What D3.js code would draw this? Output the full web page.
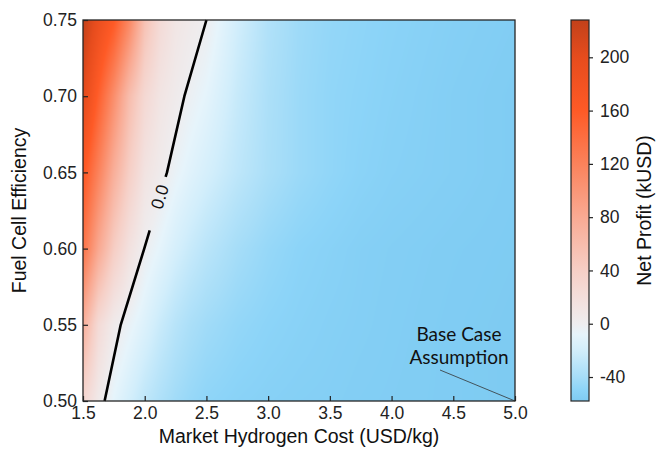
<!DOCTYPE html>
<html><head><meta charset="utf-8">
<script src="https://cdn.jsdelivr.net/npm/d3@7"></script>
<style>body{margin:0;background:#fff} svg{display:block}</style>
</head><body><svg id="chart" width="659" height="450"></svg>
<script>
// ---- data ----
const costs = [1.5,1.625,1.75,1.875,2.0,2.125,2.25,2.375,2.5,2.75,3.0,3.25,3.5,3.75,4.0,4.5,5.0];
const efficiencies = [0.50,0.55,0.60,0.65,0.70,0.75];
const profitEff050 = [30,6,-9,-19,-29,-36,-42,-46,-49,-51.5,-53,-54,-54.5,-55.5,-56,-57,-58];
const profitEff055 = [75,25,4,-5,-14,-24,-32,-38,-42,-47,-50,-52,-53.5,-54.5,-55.5,-57,-58];
const profitEff060 = [135,82,42,16,-0.5,-9,-18,-25,-31,-40,-46,-50,-52,-54,-55,-56.5,-57.5];
const profitEff065 = [165,120,75,40,14,4,-5,-12,-18,-29,-38,-44,-48,-51,-53,-55,-57];
const profitEff070 = [205,155,108,60,28,12,4,-3,-9,-25,-37,-44,-48,-50,-52,-55,-57];
const profitEff075 = [228,192,162,115,55,25,11,5,0,-20,-35,-43,-47,-49,-51,-54,-56];
const profitGrid = [profitEff050,profitEff055,profitEff060,profitEff065,profitEff070,profitEff075];
const xTicks = [1.5,2.0,2.5,3.0,3.5,4.0,4.5,5.0];
const yTicks = [0.50,0.55,0.60,0.65,0.70,0.75];
const cbarTicks = [-40,0,40,80,120,160,200];
const cbarDomain = [-58,228];
const colorStops = [-58,-50,-40,-20,-8,0,10,20,40,80,120,160,200,228];
const colorHex = ["#7ecbf2","#8cd4f8","#a6ddf8","#d2eefb","#e6f4fb","#eeedef","#f1e6e5","#f3dedb","#f6cfc6","#f9aa93","#fb825b","#fe5a26","#e64c1d","#c2411a"];
const contourLevel = 0;
const baseCaseCost = 5.0, baseCaseEff = 0.50;
const annotationLines = ["Base Case","Assumption"];

// ---- layout ----
const svg = d3.select("#chart");
const L = 83, R = 515, T = 20, B = 401;
const x = d3.scaleLinear().domain([1.5,5.0]).range([L,R]);
const y = d3.scaleLinear().domain([0.50,0.75]).range([B,T]);
const color = d3.scaleLinear().domain(colorStops).range(colorHex).interpolate(d3.interpolateRgb).clamp(true);
const tickFont = "'Liberation Sans', Arial, sans-serif";

function valueAt(c, e){
  let i = Math.max(0, Math.min(costs.length-2, d3.bisectRight(costs, c)-1));
  let j = Math.max(0, Math.min(efficiencies.length-2, d3.bisectRight(efficiencies, e)-1));
  const tx = Math.max(0, Math.min(1, (c-costs[i])/(costs[i+1]-costs[i])));
  const ty = Math.max(0, Math.min(1, (e-efficiencies[j])/(efficiencies[j+1]-efficiencies[j])));
  const a = profitGrid[j][i], b = profitGrid[j][i+1], cc = profitGrid[j+1][i], d = profitGrid[j+1][i+1];
  return (a*(1-tx)+b*tx)*(1-ty) + (cc*(1-tx)+d*tx)*ty;
}

// ---- heatmap as image ----
const W = R-L, H = B-T;
const cv = document.createElement("canvas"); cv.width = W; cv.height = H;
const ctx = cv.getContext("2d");
const img = ctx.createImageData(W,H);
for(let py=0; py<H; py++){
  const e = y.invert(T+py+0.5);
  for(let px=0; px<W; px++){
    const c = x.invert(L+px+0.5);
    const col = d3.rgb(color(valueAt(c,e)));
    const k = (py*W+px)*4;
    img.data[k]=col.r; img.data[k+1]=col.g; img.data[k+2]=col.b; img.data[k+3]=255;
  }
}
ctx.putImageData(img,0,0);
svg.append("image").attr("x",L).attr("y",T).attr("width",W).attr("height",H)
  .attr("preserveAspectRatio","none").attr("href",cv.toDataURL());

// ---- zero contour (row crossings) ----
const pts = [];
efficiencies.forEach((e,j)=>{
  const row = profitGrid[j];
  for(let i=0;i<row.length-1;i++){
    const a=row[i]-contourLevel, b=row[i+1]-contourLevel;
    if((a>=0 && b<0) || (a>0 && b<=0)){
      const c = costs[i] + a/(a-b)*(costs[i+1]-costs[i]);
      pts.push([x(c), y(e)]); break;
    }
  }
});
const labelE = 0.634, gapLoE = 0.612, gapHiE = 0.647;
function ptAtE(e){
  for(let k=0;k<pts.length-1;k++){
    const e0=y.invert(pts[k][1]), e1=y.invert(pts[k+1][1]);
    if(e>=e0 && e<=e1){const t=(e-e0)/(e1-e0); return [pts[k][0]+t*(pts[k+1][0]-pts[k][0]), y(e), k];}
  }
}
const lo = ptAtE(gapLoE), hi = ptAtE(gapHiE), lab = ptAtE(labelE);
const seg1 = pts.filter(p=>y.invert(p[1])<=gapLoE).concat([[lo[0],lo[1]]]);
const seg2 = [[hi[0],hi[1]]].concat(pts.filter(p=>y.invert(p[1])>=gapHiE));
const line = d3.line();
[seg1,seg2].forEach(s=>svg.append("path").attr("d",line(s)).attr("fill","none")
  .attr("stroke","#000").attr("stroke-width",2.6).attr("stroke-linejoin","round"));
const k = lab[2];
const ang = Math.atan2(pts[k+1][1]-pts[k][1], pts[k+1][0]-pts[k][0])*180/Math.PI;
svg.append("text").attr("transform",`translate(${lab[0]},${lab[1]}) rotate(${ang})`)
  .attr("text-anchor","middle").attr("dy","0.35em")
  .attr("font-family",tickFont).attr("font-size",17.5).attr("fill","#111").text(d3.format(".1f")(contourLevel));

// ---- annotation ----
const ann = svg.append("text").attr("font-family","Lato, 'Open Sans', sans-serif").attr("font-size",19)
  .attr("fill","#111").attr("text-anchor","middle");
annotationLines.forEach((t,i)=>ann.append("tspan").attr("x",459).attr("y",341+i*23).text(t));
svg.append("line").attr("x1",440).attr("y1",370).attr("x2",x(baseCaseCost)).attr("y2",y(baseCaseEff))
  .attr("stroke","#333").attr("stroke-width",0.8);

// ---- axes ----
const ax = svg.append("g").attr("transform",`translate(0,${B})`)
  .call(d3.axisBottom(x).tickValues(xTicks).tickFormat(d3.format(".1f")).tickSizeInner(-5).tickSizeOuter(0).tickPadding(6));
const ay = svg.append("g").attr("transform",`translate(${L},0)`)
  .call(d3.axisLeft(y).tickValues(yTicks).tickFormat(d3.format(".2f")).tickSizeInner(-5).tickSizeOuter(0).tickPadding(6));
[ax,ay].forEach(g=>{g.select(".domain").remove();
  g.selectAll("text").attr("font-family",tickFont).attr("font-size",17.5).attr("fill","#222");
  g.selectAll("line").attr("stroke","#222").attr("stroke-width",1.2);});
svg.append("rect").attr("x",L).attr("y",T).attr("width",W).attr("height",H)
  .attr("fill","none").attr("stroke","#262626").attr("stroke-width",1.3);

svg.append("text").attr("x",(L+R)/2).attr("y",443).attr("text-anchor","middle")
  .attr("font-family",tickFont).attr("font-size",19.5).attr("fill","#111").text("Market Hydrogen Cost (USD/kg)");
svg.append("text").attr("transform",`translate(26,${(T+B)/2}) rotate(-90)`).attr("text-anchor","middle")
  .attr("font-family",tickFont).attr("font-size",19.5).attr("fill","#111").text("Fuel Cell Efficiency");

// ---- colorbar ----
const cbL = 571, cbW = 18;
const cy = d3.scaleLinear().domain(cbarDomain).range([B,T]);
const grad = svg.append("defs").append("linearGradient").attr("id","cbg")
  .attr("x1",0).attr("y1",1).attr("x2",0).attr("y2",0);
colorStops.forEach((v,i)=>grad.append("stop")
  .attr("offset",(v-cbarDomain[0])/(cbarDomain[1]-cbarDomain[0])).attr("stop-color",colorHex[i]));
svg.append("rect").attr("x",cbL).attr("y",T).attr("width",cbW).attr("height",H)
  .attr("fill","url(#cbg)").attr("stroke","#262626").attr("stroke-width",1.2);
const ac = svg.append("g").attr("transform",`translate(${cbL+cbW},0)`)
  .call(d3.axisRight(cy).tickValues(cbarTicks).tickFormat(d=>String(d)).tickSizeInner(4).tickSizeOuter(0).tickPadding(7));
ac.select(".domain").remove();
ac.selectAll("text").attr("font-family",tickFont).attr("font-size",17.5).attr("fill","#222");
ac.selectAll("line").attr("stroke","#222").attr("stroke-width",1.2);
svg.append("text").attr("transform",`translate(651,${(T+B)/2}) rotate(-90)`).attr("text-anchor","middle")
  .attr("font-family",tickFont).attr("font-size",19.5).attr("fill","#111").text("Net Profit (kUSD)");
</script></body></html>
